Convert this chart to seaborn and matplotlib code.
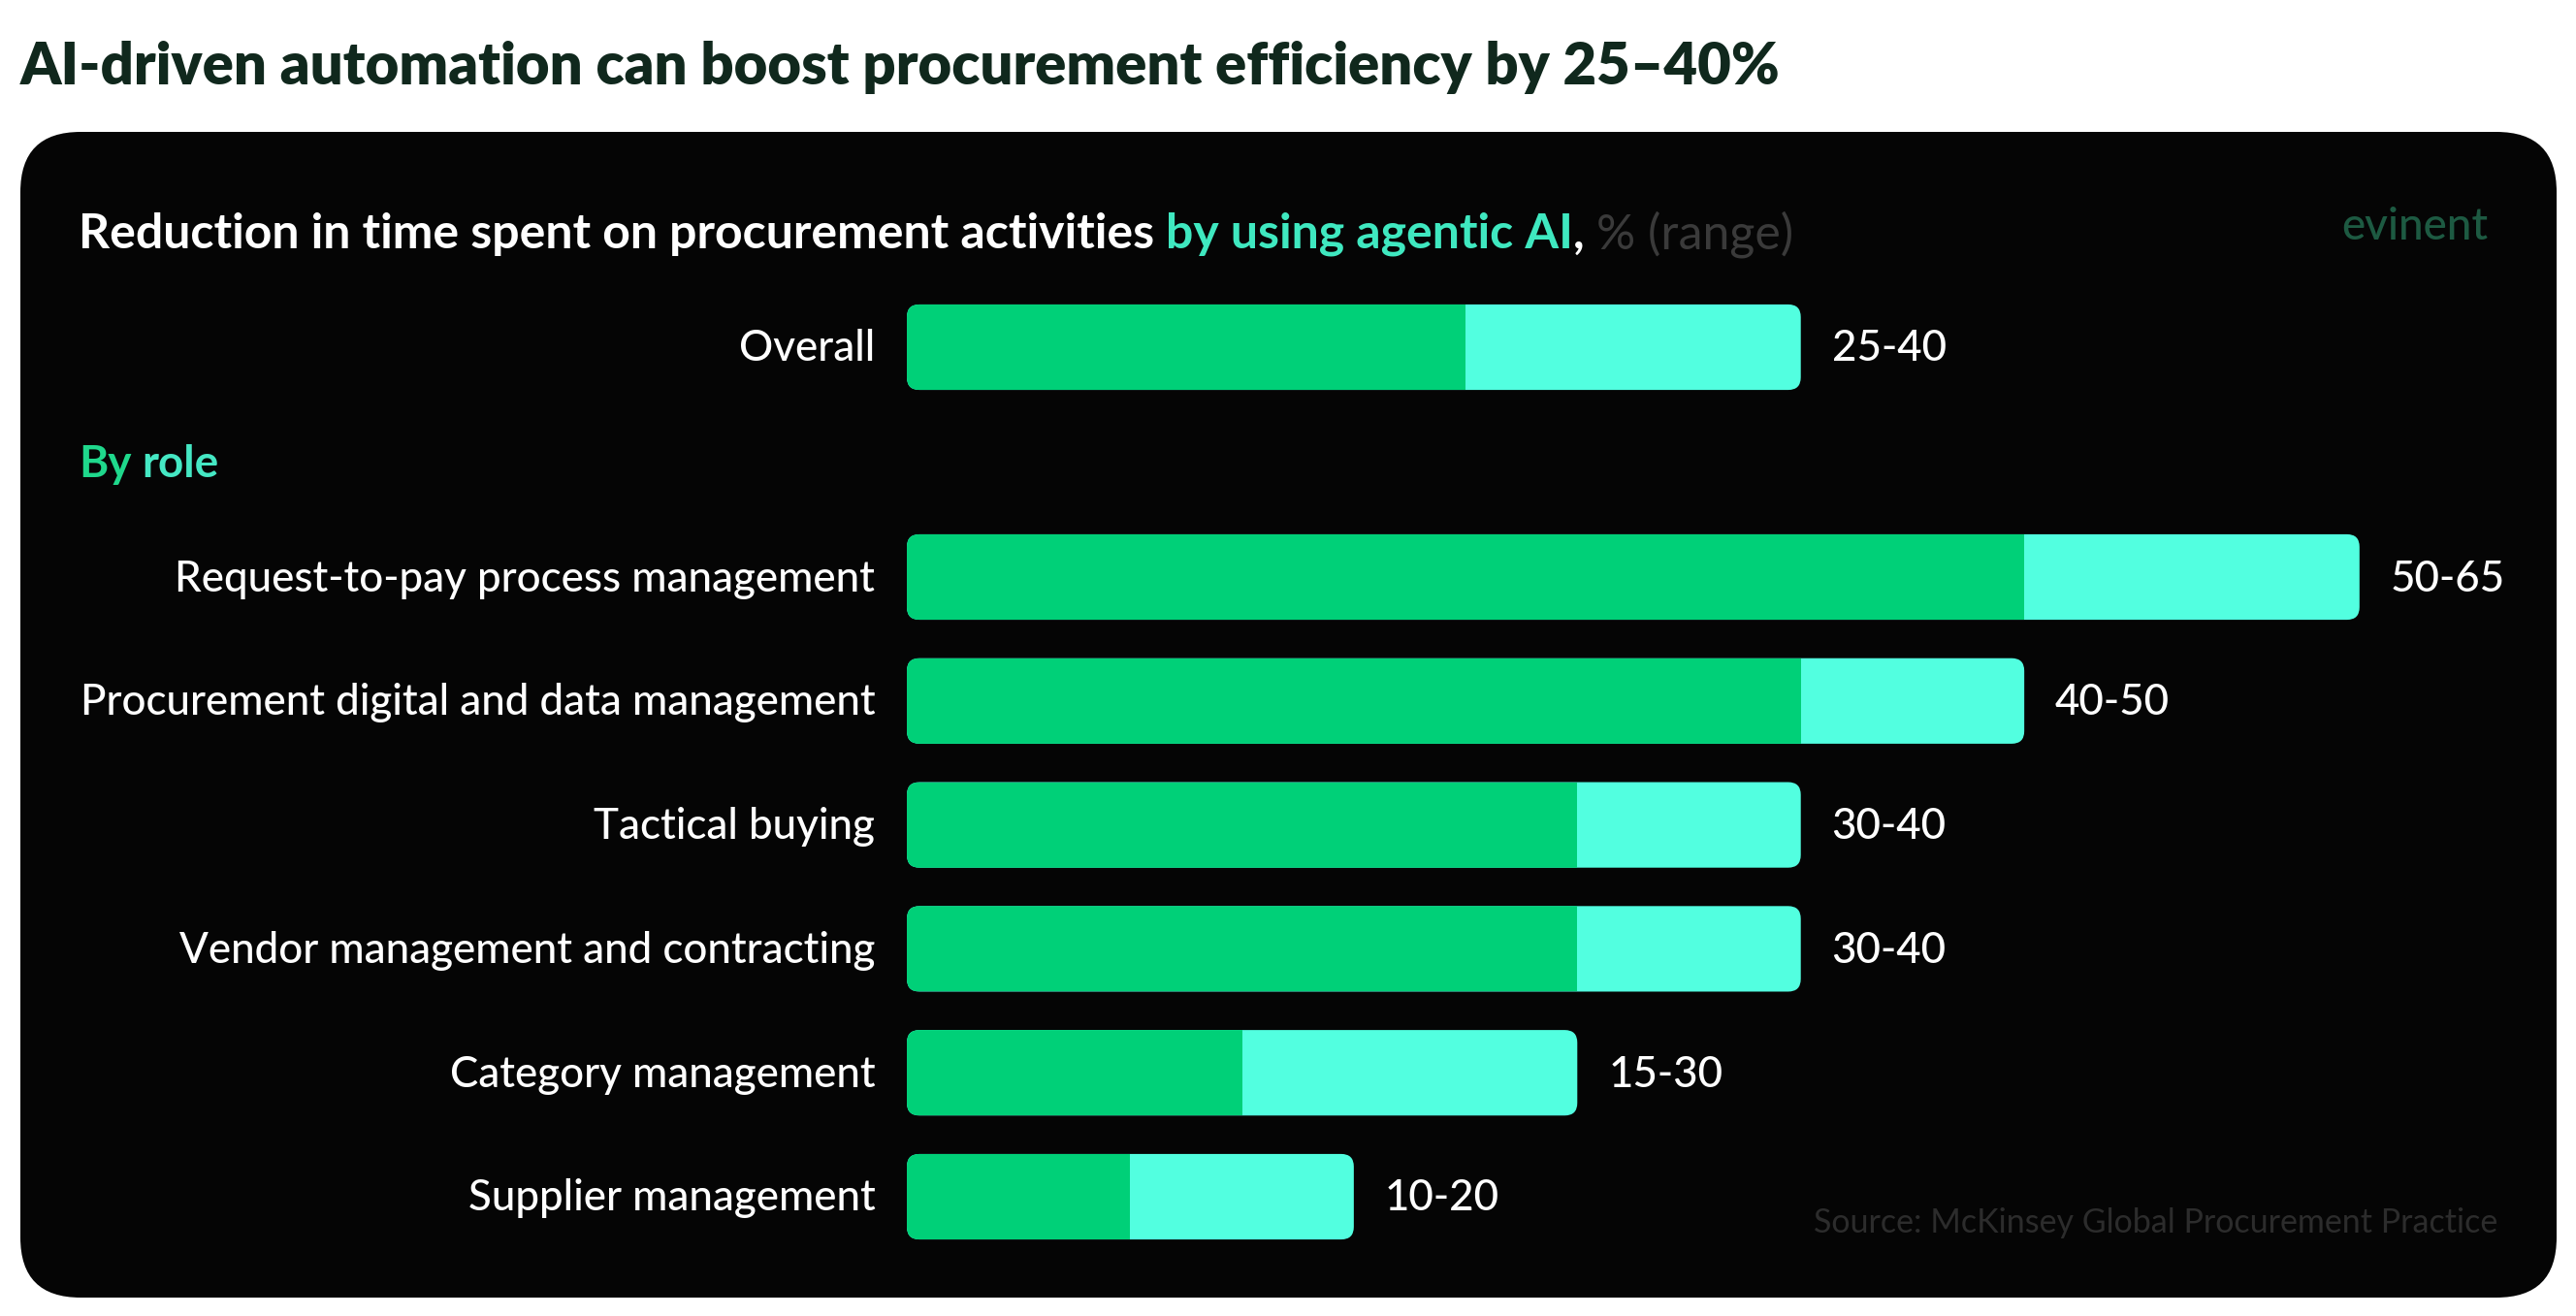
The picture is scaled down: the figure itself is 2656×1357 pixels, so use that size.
import matplotlib
matplotlib.use("Agg")
import matplotlib.pyplot as plt
import seaborn as sns
import pandas as pd
from matplotlib.patches import FancyBboxPatch

# ---------------- data ----------------
overall_label = ["Overall"]
overall_low = [25]
overall_high = [40]

roles = [
    "Request-to-pay process management",
    "Procurement digital and data management",
    "Tactical buying",
    "Vendor management and contracting",
    "Category management",
    "Supplier management",
]
role_low = [50, 40, 30, 30, 15, 10]
role_high = [65, 50, 40, 40, 30, 20]

title = "AI-driven automation can boost procurement efficiency by 25–40%"
subtitle_main = "Reduction in time spent on procurement activities"
subtitle_hl = "by using agentic AI"
subtitle_unit = "% (range)"
section_label = ["By", "role"]
source = "Source: McKinsey Global Procurement Practice"
logo = "evinent"

# ---------------- style ----------------
GREEN = "#00d078"
CYAN = "#52ffe0"
TEAL = "#3fe8c0"
PANEL = "#050505"
TITLE_C = "#10281d"
GRAY = "#3a3a3a"

W, H, DPI = 2656, 1357, 100
sns.set_theme(style="white")
plt.rcParams["font.family"] = ["Lato", "DejaVu Sans"]

fig = plt.figure(figsize=(W / DPI, H / DPI), dpi=DPI, facecolor="white")
renderer = fig.canvas.get_renderer()


def width_px(t):
    return t.get_window_extent(renderer).width


bg = fig.add_axes([0, 0, 1, 1], zorder=0)
bg.set_xlim(0, W)
bg.set_ylim(H, 0)
bg.axis("off")
bg.add_patch(FancyBboxPatch((21, 136), 2636 - 21, 1338 - 136,
                            boxstyle="round,pad=0,rounding_size=62",
                            fc=PANEL, ec="none"))


def px_axes(left, top, right, bottom):
    a = fig.add_axes([left / W, 1 - bottom / H, (right - left) / W, (bottom - top) / H], zorder=2)
    a.set_facecolor("none")
    return a


XMAX = 70
AX_L, AX_R = 935, 2548
ax1 = px_axes(AX_L, 294.1, AX_R, 421.9)
ax2 = px_axes(AX_L, 531.1, AX_R, 1297.9)

# label font size fitted so the longest label spans the reference width
probe = bg.text(0, 0, max(roles, key=len), fontsize=29, fontweight="medium")
LABEL_PT = 29 * 821 / width_px(probe)
probe.remove()
CAP_PX = 29

for ax, names, lo, hi in [(ax1, overall_label, overall_low, overall_high),
                          (ax2, roles, role_low, role_high)]:
    df = pd.DataFrame({"activity": names, "low": lo, "high": hi})
    n = len(df)
    sns.barplot(data=df, x="high", y="activity", color=CYAN, width=0.69,
                saturation=1, linewidth=0, orient="h", ax=ax)
    sns.barplot(data=df, x="low", y="activity", color=GREEN, width=0.69,
                saturation=1, linewidth=0, orient="h", ax=ax)
    ax.set_xlim(0, XMAX)
    ax.set_ylim(n - 0.5, -0.5)
    ax.set_xlabel("")
    ax.set_ylabel("")
    ax.set_xticks([])
    ax.set_yticks([])
    sns.despine(ax=ax, left=True, bottom=True)

    bb = ax.get_position()
    w_px, h_px = bb.width * W, bb.height * H
    xpp = XMAX / w_px
    ypp = n / h_px
    aspect = ypp / xpp
    pats = list(ax.patches)
    high_p, low_p = pats[:n], pats[n:2 * n]
    for hp, lp in zip(high_p, low_p):
        fb = FancyBboxPatch((hp.get_x(), hp.get_y()), hp.get_width(), hp.get_height(),
                            boxstyle=f"round,pad=0,rounding_size={13 * xpp}",
                            mutation_aspect=aspect, fc=CYAN, ec="none", zorder=2)
        ax.add_patch(fb)
        hp.remove()
        lp.set_zorder(3)
        lp.set_clip_path(fb)

    for i, (name, l, h) in enumerate(zip(names, lo, hi)):
        ax.annotate(name, xy=(0, i), xytext=(-23.5, -CAP_PX / 2 * 0.72),
                    textcoords="offset points", ha="right", va="baseline",
                    color="white", fontsize=LABEL_PT, fontweight="medium",
                    annotation_clip=False)
        ax.annotate(f"{l}-{h}", xy=(h, i), xytext=(23, -CAP_PX / 2 * 0.72),
                    textcoords="offset points", ha="left", va="baseline",
                    color="white", fontsize=LABEL_PT, fontweight="medium",
                    annotation_clip=False)


# title, fitted to reference width
t = bg.text(21, 87, title, color=TITLE_C, fontsize=39, fontweight="heavy",
            ha="left", va="baseline")
t.set_fontsize(t.get_fontsize() * 1812 / width_px(t))

# subtitle in coloured pieces
SUB_PT = 31
pieces = [(subtitle_main, "white", "bold", True),
          (subtitle_hl, TEAL, "bold", False),
          (",", "white", "bold", True),
          (subtitle_unit, GRAY, "normal", False)]
texts = []
for s, c, wgt, space_after in pieces:
    texts.append((bg.text(0, 256, s, color=c, fontsize=SUB_PT, fontweight=wgt,
                          ha="left", va="baseline"), space_after))


def space_width(size, weight="bold"):
    a = bg.text(0, 0, "a a", fontsize=size, fontweight=weight)
    b = bg.text(0, 0, "aa", fontsize=size, fontweight=weight)
    d = width_px(a) - width_px(b)
    a.remove()
    b.remove()
    return d


def layout_sub(x0=81):
    x = x0
    sp = space_width(texts[0][0].get_fontsize())
    for tx, space_after in texts:
        tx.set_x(x)
        x += width_px(tx)
        if space_after:
            x += sp
    return x


end = layout_sub()
scale = (1850 - 81) / (end - 81)
for tx, _ in texts:
    tx.set_fontsize(tx.get_fontsize() * scale)
layout_sub()

# section label (gradient green -> teal approximated by two pieces)
b1 = bg.text(81, 492, section_label[0], color="#1fd88c", fontsize=33,
             fontweight="bold", ha="left", va="baseline")
bg.text(81 + width_px(b1) + space_width(33), 492, section_label[1], color="#45e8c4",
        fontsize=33, fontweight="bold", ha="left", va="baseline")

# logo and source
bg.text(2565, 247, logo, color="#1d5a42", fontsize=33, fontweight="medium",
        ha="right", va="baseline")
src = bg.text(2575, 1271, source, color="#2c2c2c", fontsize=20, fontweight="normal",
              ha="right", va="baseline")
src.set_fontsize(src.get_fontsize() * 706 / width_px(src))

fig.savefig("out.png", dpi=DPI, facecolor="white")
